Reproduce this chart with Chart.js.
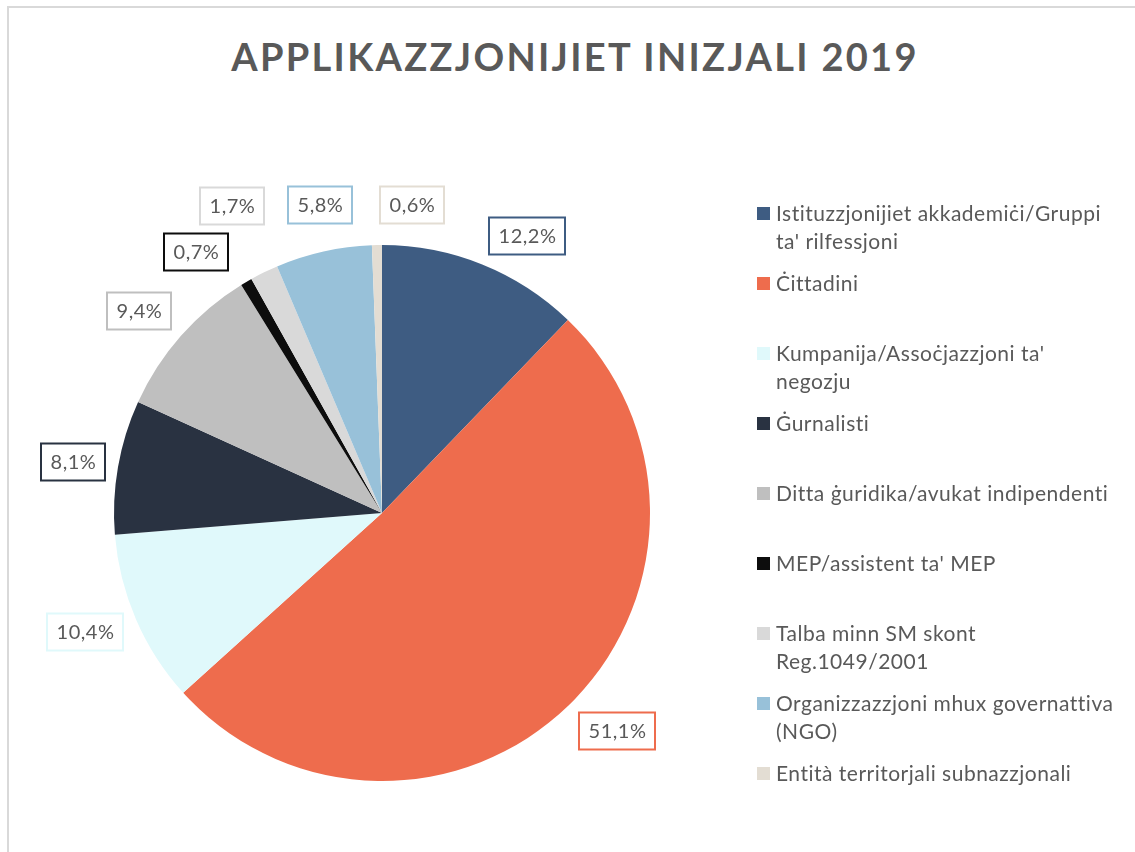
<!DOCTYPE html>
<html>
<head>
<meta charset="utf-8">
<script src="https://cdn.jsdelivr.net/npm/chart.js@4.4.1/dist/chart.umd.min.js"></script>
<style>
    html, body { margin: 0; padding: 0; background: #fff; }
    body { width: 1135px; height: 852px; position: relative; overflow: hidden; font-family: Lato, "Open Sans", sans-serif; }
    #frame { position: absolute; left: 7px; top: 6px; width: 1200px; height: 900px; border-left: 2px solid #d9d9d9; border-top: 2px solid #d9d9d9; }
    #title { position: absolute; left: 0; width: 1150px; top: 32px; text-align: center; font-size: 38px; font-weight: bold; letter-spacing: 2.3px; color: #595959; line-height: 48px; white-space: nowrap; }
    #pie { position: absolute; left: 0; top: 0; }
    #legend { position: absolute; left: 757px; top: 199px; color: #595959; font-size: 21px; letter-spacing: 0.5px; line-height: 28px; }
    #legend .item { height: 70px; position: relative; white-space: nowrap; }
    #legend .box { position: absolute; left: 0; top: 8px; width: 13px; height: 13px; }
    #legend .txt { position: absolute; left: 19px; top: 0; }
</style>
</head>
<body>
<div id="frame"></div>
<div id="title">APPLIKAZZJONIJIET INIZJALI 2019</div>
<canvas id="pie" width="1135" height="852"></canvas>
<div id="legend"></div>
<script>
    // --- Veriler ---
    const kategoriler = [
        ['Istituzzjonijiet akkademiċi/Gruppi', "ta' rilfessjoni"],
        ['Ċittadini'],
        ["Kumpanija/Assoċjazzjoni ta'", 'negozju'],
        ['Ġurnalisti'],
        ['Ditta ġuridika/avukat indipendenti'],
        ["MEP/assistent ta' MEP"],
        ['Talba minn SM skont', 'Reg.1049/2001'],
        ['Organizzazzjoni mhux governattiva', '(NGO)'],
        ['Entità territorjali subnazzjonali']
    ];
    const yuzdeler = [12.2, 51.1, 10.4, 8.1, 9.4, 0.7, 1.7, 5.8, 0.6];
    const renkler = ['#3e5c82', '#ee6c4d', '#e0f9fb', '#293241', '#bfbfbf', '#0d0d0d', '#d9d9d9', '#98c1d9', '#e3ddd3'];

    // etiket kaydırmaları (px), Excel'deki elle yerleştirme gibi
    const etiketKayma = [[27, 16], [15, -9], [-7, -6], [2, 3], [-6, 7], [-26, 11], [-11, -23], [7, 0], [36, 8]];

    const metinRengi = '#595959';
    const fmt = v => v.toFixed(1).replace('.', ',') + '%';

    const etiketPlugin = {
        id: 'kutuluEtiketler',
        afterDatasetsDraw(chart) {
            const ctx = chart.ctx;
            const meta = chart.getDatasetMeta(0);
            ctx.save();
            ctx.font = '20px Lato, "Open Sans", sans-serif';
            ctx.letterSpacing = '0.5px';
            ctx.textAlign = 'center';
            ctx.textBaseline = 'middle';
            meta.data.forEach((arc, i) => {
                const p = arc.getProps(['x', 'y', 'startAngle', 'endAngle', 'outerRadius'], true);
                const mid = (p.startAngle + p.endAngle) / 2;
                const r = p.outerRadius + 48;
                const off = etiketKayma[i] || [0, 0];
                const cx = Math.round(p.x + Math.cos(mid) * r + off[0]);
                const cy = Math.round(p.y + Math.sin(mid) * r + off[1]);
                const txt = fmt(chart.data.datasets[0].data[i]);
                const w = Math.round(ctx.measureText(txt).width) + 18;
                const h = 37;
                ctx.fillStyle = '#fff';
                ctx.fillRect(cx - w / 2, cy - h / 2, w, h);
                ctx.lineWidth = 2;
                ctx.strokeStyle = renkler[i];
                ctx.strokeRect(cx - w / 2, cy - h / 2, w, h);
                ctx.fillStyle = metinRengi;
                ctx.fillText(txt, cx + 0.5, cy + 1);
            });
            ctx.restore();
        }
    };

    const chart = new Chart(document.getElementById('pie'), {
        type: 'pie',
        data: {
            labels: kategoriler.map(l => l.join(' ')),
            datasets: [{
                data: yuzdeler,
                backgroundColor: renkler,
                borderWidth: 0
            }]
        },
        options: {
            responsive: false,
            animation: false,
            layout: { padding: { left: 114, right: 485, top: 245, bottom: 71 } },
            plugins: {
                legend: { display: false },
                title: { display: false },
                tooltip: { enabled: false }
            }
        },
        plugins: [etiketPlugin]
    });

    // --- HTML lejant ---
    const lg = document.getElementById('legend');
    kategoriler.forEach((satirlar, i) => {
        const item = document.createElement('div');
        item.className = 'item';
        const box = document.createElement('span');
        box.className = 'box';
        box.style.background = renkler[i];
        const txt = document.createElement('span');
        txt.className = 'txt';
        txt.innerHTML = satirlar.map(s => s.replace(/&/g, '&amp;').replace(/</g, '&lt;')).join('<br>');
        item.appendChild(box);
        item.appendChild(txt);
        lg.appendChild(item);
    });
</script>
</body>
</html>
